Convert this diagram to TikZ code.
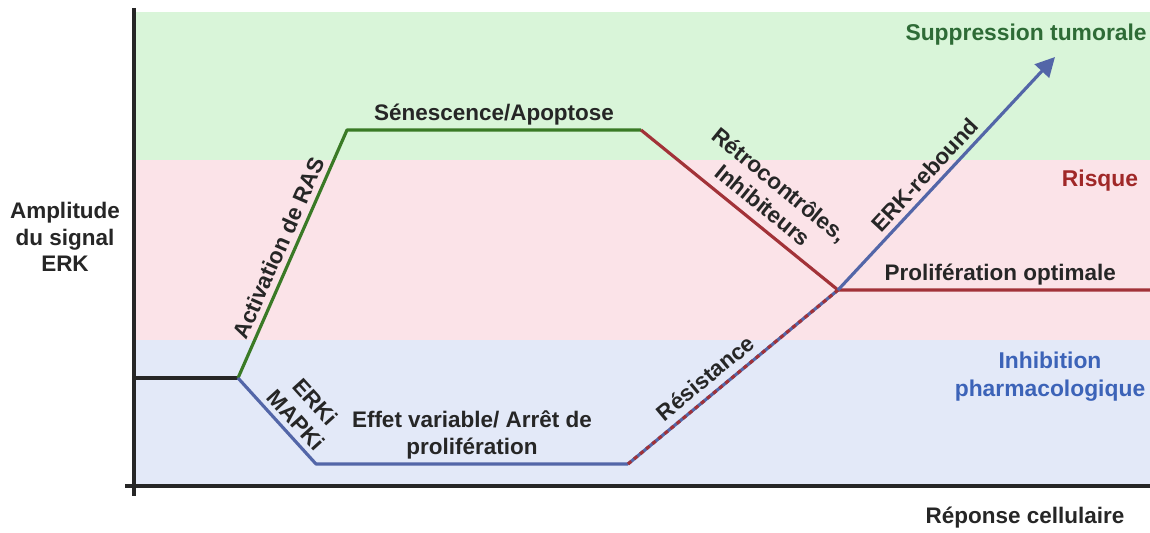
\documentclass[tikz,border=0pt]{standalone}
\usepackage{fontspec}
\setmainfont{Liberation Sans}
\usepackage{xcolor}
\usepackage{tikz}
\usetikzlibrary{arrows.meta,positioning}
\definecolor{bandgreen}{HTML}{D9F5D9}
\definecolor{bandpink}{HTML}{FBE3E8}
\definecolor{bandblue}{HTML}{E3E9F8}
\definecolor{lgreen}{HTML}{3A7A26}
\definecolor{lred}{HTML}{A23238}
\definecolor{lblue}{HTML}{5366A8}
\definecolor{tgreen}{HTML}{2E6B36}
\definecolor{tred}{HTML}{A02828}
\definecolor{tblue}{HTML}{3C63B8}
\tikzset{
  band/.style={fill=#1, draw=none},
  axis/.style={draw=black!85, line width=2.2pt},
  curve/.style={draw=#1, line width=1.8pt, line join=round},
  lbl/.style={font=\fontsize{12.8}{15}\selectfont\bfseries, text=black!85, align=center, inner sep=3pt},
  zone/.style={font=\fontsize{13}{16}\selectfont\bfseries, text=#1, align=center, inner sep=0pt},
  arr/.style={-{Triangle[length=11pt,width=11pt]}, curve=lblue},
}
\begin{document}
\begin{tikzpicture}[x=0.02cm, y=0.02cm]
  \useasboundingbox (0,0) rectangle (1150,532);
  \fill[band=bandgreen] (136,520) rectangle (1150,372);
  \fill[band=bandpink] (136,372) rectangle (1150,192);
  \fill[band=bandblue] (136,192) rectangle (1150,48);

  \coordinate (ytop) at (134,524);
  \coordinate (ybot) at (134,36);
  \coordinate (xleft) at (125,46);
  \coordinate (xright) at (1150,46);
  \draw[axis] (ytop) -- (ybot);
  \draw[axis] (xleft) -- (xright);

  \coordinate (start) at (136,154);
  \coordinate (split) at (238,154);
  \coordinate (rastop) at (347,402);
  \coordinate (senend) at (641,402);
  \coordinate (opt) at (838,242);
  \coordinate (optend) at (1150,242);
  \coordinate (blow) at (316,68);
  \coordinate (bend) at (628,68);
  \coordinate (tip) at (1055,475);

  \draw[curve=black!85, line width=2pt] (start) -- (split);
  \draw[curve=lgreen] (split) -- node[lbl, sloped, above] (ras) {Activation de RAS} (rastop)
    -- node[lbl, above, inner sep=2pt] (sen) {Sénescence/Apoptose} (senend);
  \draw[curve=lred] (senend) -- node[lbl, sloped, above, pos=0.56, inner sep=5pt] (retro) {Rétrocontrôles,\\Inhibiteurs} (opt)
    -- node[lbl, above, pos=0.52, inner sep=2pt] (optlbl) {Prolifération optimale} (optend);
  \draw[curve=lblue] (split) -- node[lbl, sloped, above, pos=0.6] (erki) {ERKi\\MAPKi} (blow)
    -- node[lbl, above, inner sep=2pt] (effet) {Effet variable/ Arrêt de\\prolifération} (bend);
  \draw[curve=lblue] (bend) -- (opt);
  \draw[curve=lred, dash pattern=on 2.4pt off 2.1pt] (bend) -- node[lbl, sloped, above, pos=0.42, inner sep=4pt] (resist) {Résistance} (opt);
  \draw[arr] (opt) -- node[lbl, sloped, above, pos=0.45] (rebound) {ERK-rebound} (tip);

  \node[lbl] (yaxis) at (65,295) {Amplitude\\du signal\\ERK};
  \node[lbl] (xaxis) at (1025,14) {Réponse cellulaire};
  \node[zone=tgreen, anchor=east] (supp) at (1147,497) {Suppression tumorale};
  \node[zone=tred] (risque) at (1100,351) {Risque};
  \node[zone=tblue] (inhib) at (1050,155) {Inhibition\\pharmacologique};
\end{tikzpicture}
\end{document}
